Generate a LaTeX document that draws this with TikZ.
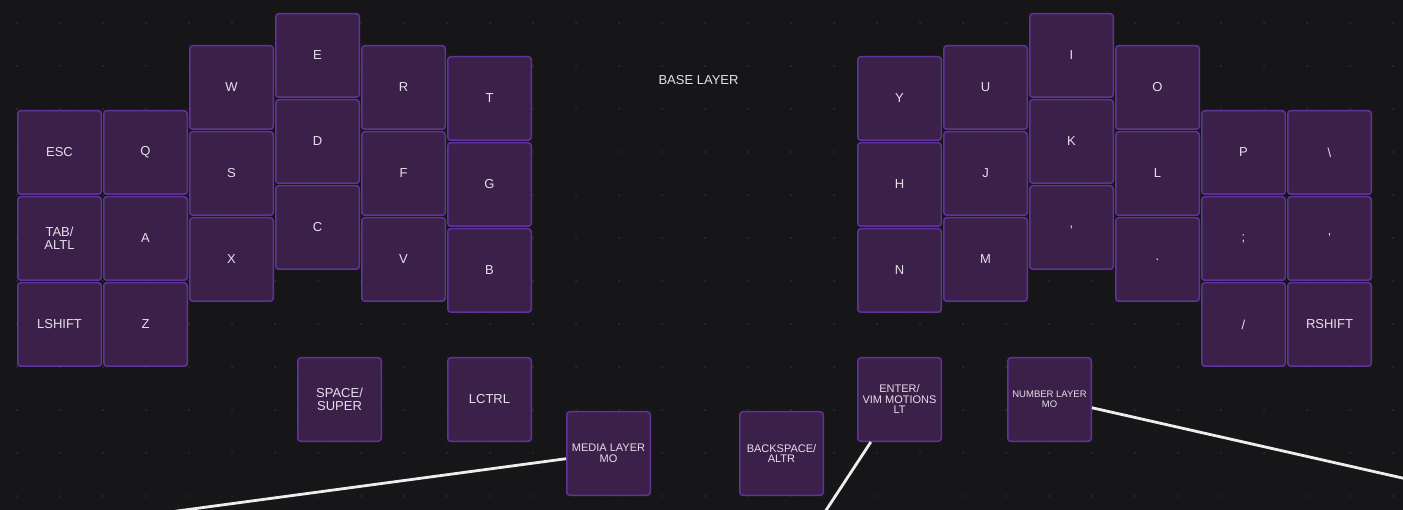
\documentclass[tikz,border=0pt]{standalone}
\usepackage{fontspec}
\setmainfont{Liberation Sans}
\usepackage{xcolor}
\definecolor{board}{HTML}{161618}
\definecolor{keyfill}{HTML}{3B2049}
\definecolor{keyline}{HTML}{60339A}
\definecolor{keytext}{HTML}{E6E0EA}
\definecolor{dotfaint}{HTML}{202022}
\definecolor{dotbright}{HTML}{2E2E31}
\definecolor{wire}{HTML}{EDEDED}

\begin{document}
\begin{tikzpicture}[%
  x=1pt,y=-1pt,
  key/.style={draw=keyline,line width=1.5pt,fill=keyfill,rounded corners=3pt,
    minimum size=83.5pt,inner sep=0pt,align=center,text=keytext,
    font=\fontsize{13}{13.5}\selectfont},
  thumb/.style={key,font=\fontsize{11}{10.5}\selectfont},
  tiny/.style={key,font=\fontsize{9.5}{10.5}\selectfont},
  title/.style={text=keytext,font=\fontsize{13}{15}\selectfont},
  link/.style={draw=wire,line width=2.8pt}
]
  \useasboundingbox (0,0) rectangle (1403,510);
  \clip (0,0) rectangle (1403,510);
  \fill[board] (0,0) rectangle (1403,510);
  \foreach \j in {0,...,47}
    \fill[dotfaint] \foreach \i in {0,...,130} {(6.25+\i*10.75,1.5+\j*10.75) circle (0.8)};
  \foreach \j in {0,...,11}
    \fill[dotbright] \foreach \i in {0,...,32} {(17+\i*43,23+\j*43) circle (1)};

  \node [title] (layer) at (698.5,80) {BASE LAYER};

  \node [key] (esc)   at (59.5,152.5) {ESC};
  \node [key] (tab)   at (59.5,238.5) {TAB/\\ALTL};
  \node [key] (lsft)  at (59.5,324.5) {LSHIFT};
  \node [key] (q)     at (145.5,152.5) {Q};
  \node [key] (a)     at (145.5,238.5) {A};
  \node [key] (z)     at (145.5,324.5) {Z};
  \node [key] (w)     at (231.5,87.5) {W};
  \node [key] (s)     at (231.5,173.5) {S};
  \node [key] (x)     at (231.5,259.5) {X};
  \node [key] (e)     at (317.5,55.5) {E};
  \node [key] (d)     at (317.5,141.5) {D};
  \node [key] (c)     at (317.5,227.5) {C};
  \node [key] (r)     at (403.5,87.5) {R};
  \node [key] (f)     at (403.5,173.5) {F};
  \node [key] (v)     at (403.5,259.5) {V};
  \node [key] (t)     at (489.5,98.5) {T};
  \node [key] (g)     at (489.5,184.5) {G};
  \node [key] (b)     at (489.5,270.5) {B};

  \node [key] (y)     at (899.5,98.5) {Y};
  \node [key] (h)     at (899.5,184.5) {H};
  \node [key] (n)     at (899.5,270.5) {N};
  \node [key] (u)     at (985.5,87.5) {U};
  \node [key] (j)     at (985.5,173.5) {J};
  \node [key] (m)     at (985.5,259.5) {M};
  \node [key] (i)     at (1071.5,55.5) {I};
  \node [key] (k)     at (1071.5,141.5) {K};
  \node [key] (comma) at (1071.5,227.5) {,};
  \node [key] (o)     at (1157.5,87.5) {O};
  \node [key] (l)     at (1157.5,173.5) {L};
  \node [key] (dot)   at (1157.5,259.5) {.};
  \node [key] (p)     at (1243.5,152.5) {P};
  \node [key] (semi)  at (1243.5,238.5) {;};
  \node [key] (slash) at (1243.5,324.5) {/};
  \node [key] (bsl)   at (1329.5,152.5) {\textbackslash};
  \node [key] (quote) at (1329.5,238.5) {'};
  \node [key] (rsft)  at (1329.5,324.5) {RSHIFT};

  \node [key]   (space) at (339.5,399.5) {SPACE/\\SUPER};
  \node [key]   (lctrl) at (489.5,399.5) {LCTRL};
  \node [thumb] (media) at (608.5,453.5) {MEDIA LAYER\\MO};
  \node [thumb] (bksp)  at (781.5,453.5) {BACKSPACE/\\ALTR};
  \node [thumb] (enter) at (899.5,399.5) {ENTER/\\VIM MOTIONS\\LT};
  \node [tiny]  (numl)  at (1049.5,399.5) {NUMBER LAYER\\MO};

  \coordinate (mediaout) at (175,511.3);
  \coordinate (enterout) at (819,521);
  \coordinate (numlout)  at (1420,482);
  \draw [link] (media.187) -- (mediaout);
  \draw [link] (enter.236) -- (enterout);
  \draw [link] (numl.349) -- (numlout);
\end{tikzpicture}
\end{document}
